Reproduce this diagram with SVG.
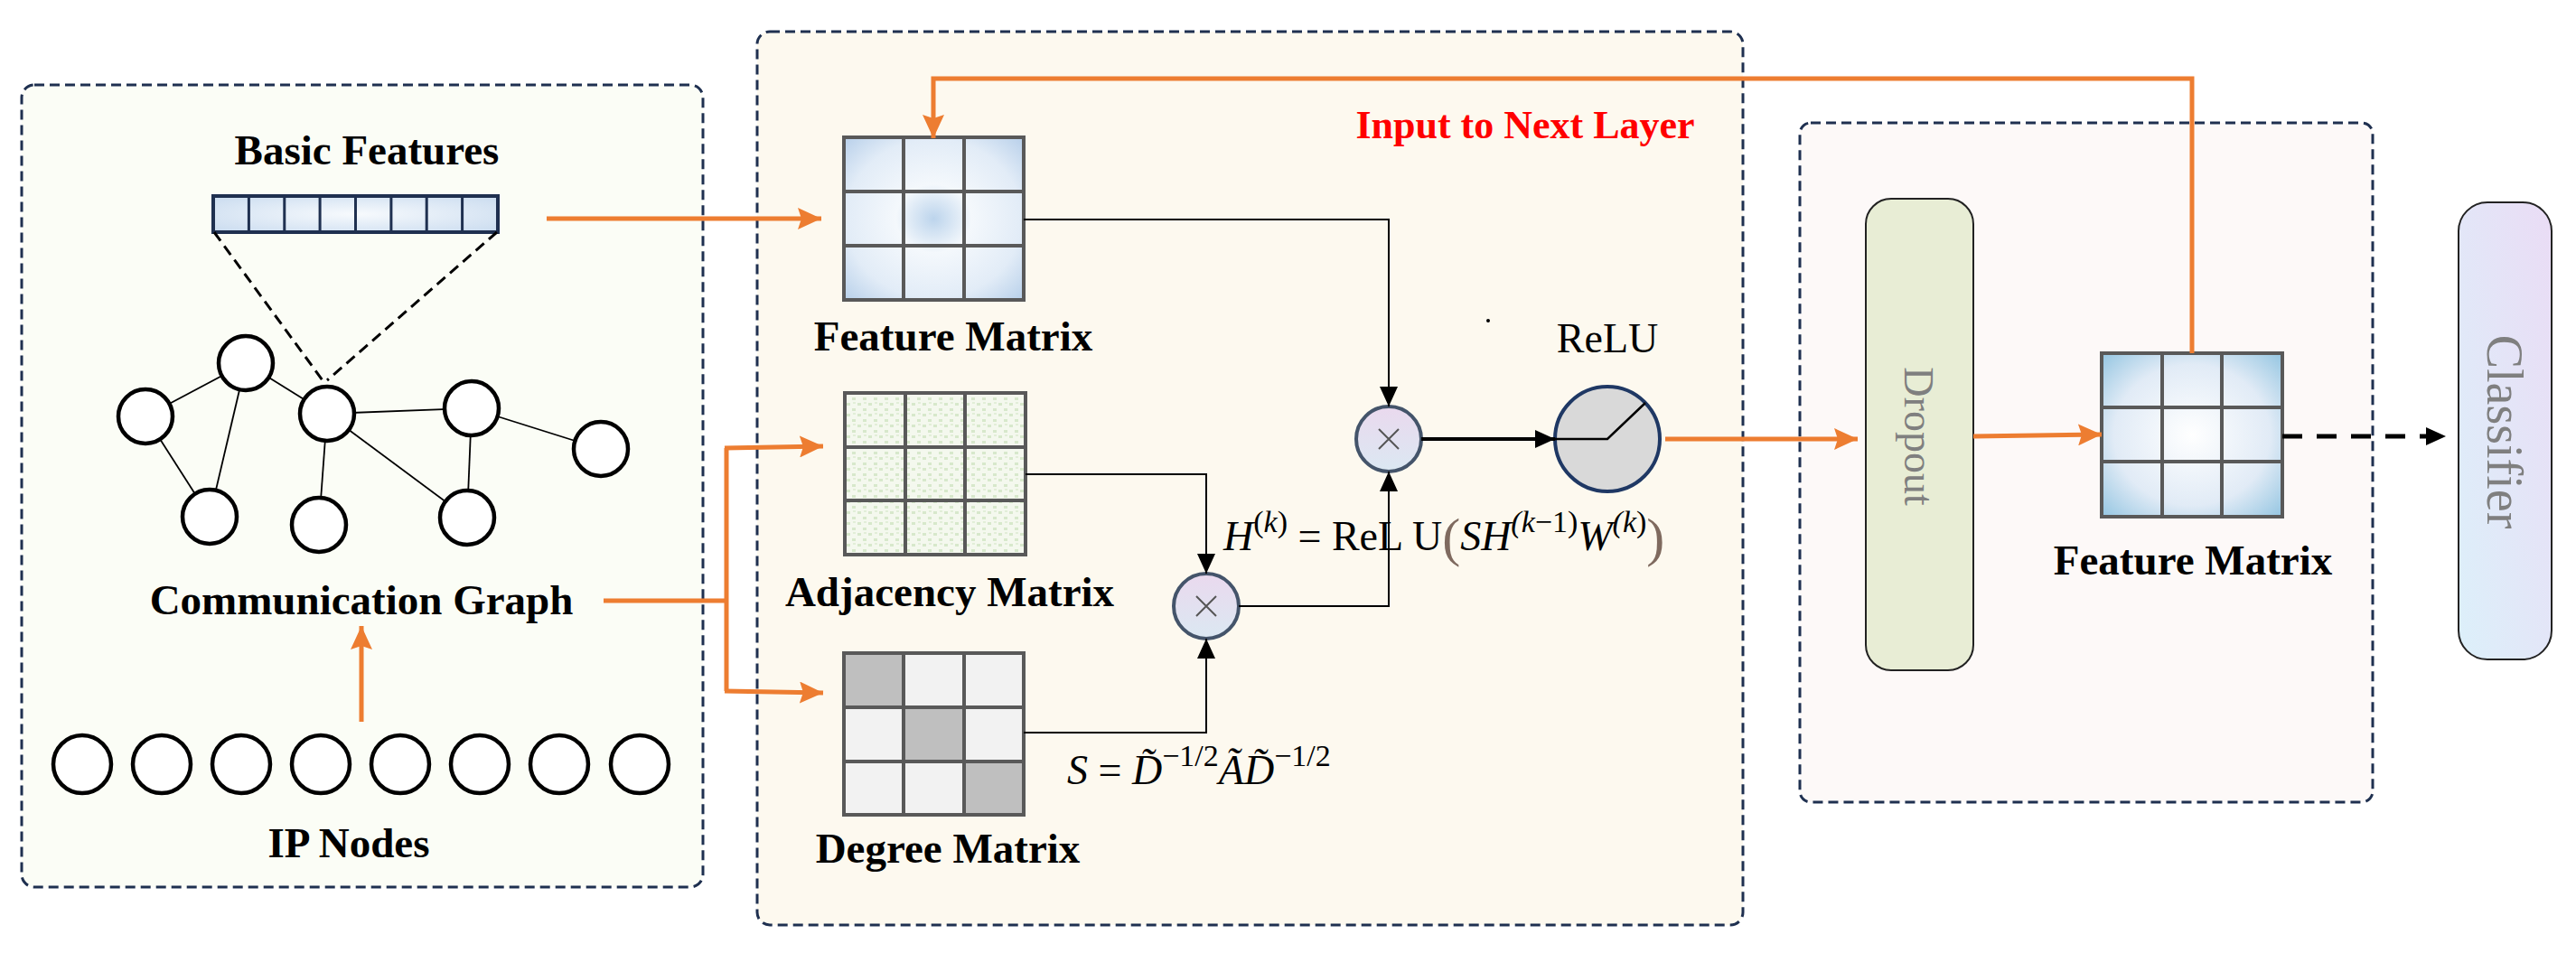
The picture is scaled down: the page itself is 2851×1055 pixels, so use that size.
<svg xmlns="http://www.w3.org/2000/svg" width="2851" height="1055" viewBox="0 0 2851 1055">
<style>
.panel{stroke:#1f3050;stroke-width:3;stroke-dasharray:11 6}
.lbl{font-family:"Liberation Serif",serif;font-weight:bold;font-size:47px;fill:#000;text-anchor:middle}
.node{fill:#fff;stroke:#000;stroke-width:4.5}
.edge{stroke:#000;stroke-width:1.8}
.org{stroke:#ed7d31;stroke-width:5;fill:none}
.blk{stroke:#000;stroke-width:2;fill:none}
.grid{stroke:#595959;stroke-width:4;fill:none}
.math{font-family:"Liberation Serif",serif;font-size:46px;font-style:italic;fill:#000}
.mul{fill:url(#mulg);stroke:#44546a;stroke-width:4}
</style>
<defs>
<marker id="aoL" markerWidth="26" markerHeight="24" refX="26" refY="12" orient="auto" markerUnits="userSpaceOnUse"><path d="M0,0 L26,12 L0,24 L4,12 z" fill="#ed7d31"/></marker>
<marker id="ab" markerWidth="22" markerHeight="20" refX="22" refY="10" orient="auto" markerUnits="userSpaceOnUse"><path d="M0,0 L22,10 L0,20 z" fill="#000"/></marker>
<radialGradient id="fm1" cx="0.5" cy="0.5" r="0.7"><stop offset="0" stop-color="#bcd4ec"/><stop offset="0.3" stop-color="#f4f8fc"/><stop offset="0.7" stop-color="#e2ecf7"/><stop offset="1" stop-color="#b8d0ea"/></radialGradient>
<radialGradient id="fm2" cx="0.5" cy="0.5" r="0.72"><stop offset="0" stop-color="#ffffff"/><stop offset="0.6" stop-color="#e1ebf6"/><stop offset="1" stop-color="#8fc3e0"/></radialGradient>
<radialGradient id="cell" cx="0.5" cy="0.5" r="0.7"><stop offset="0" stop-color="#f7fafd"/><stop offset="1" stop-color="#c9dbef"/></radialGradient>
<linearGradient id="mulg" x1="0" y1="0" x2="0" y2="1"><stop offset="0" stop-color="#ead9ee"/><stop offset="1" stop-color="#dbe8f2"/></linearGradient>
<linearGradient id="clsg" x1="1" y1="0" x2="0" y2="1"><stop offset="0" stop-color="#eadcf5"/><stop offset="1" stop-color="#dcf0fa"/></linearGradient>
<pattern id="dots" width="12" height="12" patternUnits="userSpaceOnUse"><rect width="12" height="12" fill="#f4f8ee"/><rect x="1" y="2" width="4" height="3" fill="#d7e8cb"/><rect x="7" y="8" width="4" height="3" fill="#d7e8cb"/><rect x="8" y="1" width="3" height="2" fill="#e2eed8"/></pattern>
</defs>

<g id="panel-left"><rect x="24" y="94" width="754" height="888" rx="14" fill="#fbfdf6" class="panel"/></g>
<g id="panel-mid"><rect x="838" y="35" width="1091" height="989" rx="14" fill="#fdf9ef" class="panel"/></g>
<g id="panel-right"><rect x="1992" y="136" width="634" height="752" rx="12" fill="#fdf9f8" class="panel"/></g>

<g id="basic-features">
<text class="lbl" x="406" y="182">Basic Features</text>
<rect x="236" y="217" width="315" height="40" fill="url(#cell)" stroke="#1f3050" stroke-width="4"/>
<path d="M275.4,217v40M314.8,217v40M354.1,217v40M393.5,217v40M432.9,217v40M472.2,217v40M511.6,217v40" stroke="#1f3050" stroke-width="3"/>
<path d="M237,257 L357,421 M550,257 L362,421" stroke="#000" stroke-width="3" stroke-dasharray="12 7" fill="none"/>
</g>

<g id="communication-graph">
<g class="edge">
<line x1="161" y1="461" x2="272" y2="402"/><line x1="272" y1="402" x2="362" y2="458"/><line x1="272" y1="402" x2="232" y2="572"/>
<line x1="161" y1="461" x2="232" y2="572"/><line x1="362" y1="458" x2="522" y2="452"/><line x1="362" y1="458" x2="353" y2="581"/>
<line x1="362" y1="458" x2="517" y2="573"/><line x1="522" y1="452" x2="517" y2="573"/><line x1="522" y1="452" x2="665" y2="497"/>
</g>
<circle class="node" cx="272" cy="402" r="30"/><circle class="node" cx="161" cy="461" r="30"/><circle class="node" cx="362" cy="458" r="30"/>
<circle class="node" cx="522" cy="452" r="30"/><circle class="node" cx="665" cy="497" r="30"/><circle class="node" cx="232" cy="572" r="30"/>
<circle class="node" cx="353" cy="581" r="30"/><circle class="node" cx="517" cy="573" r="30"/>
<text class="lbl" x="400" y="680">Communication Graph</text>
</g>

<g id="ip-nodes">
<circle class="node" cx="91" cy="846" r="32"/><circle class="node" cx="179" cy="846" r="32"/><circle class="node" cx="267" cy="846" r="32"/><circle class="node" cx="355" cy="846" r="32"/>
<circle class="node" cx="443" cy="846" r="32"/><circle class="node" cx="531" cy="846" r="32"/><circle class="node" cx="619" cy="846" r="32"/><circle class="node" cx="708" cy="846" r="32"/>
<text class="lbl" x="386" y="949">IP Nodes</text>
</g>

<g id="feature-matrix-1">
<rect x="934" y="152" width="199" height="180" fill="url(#fm1)"/>
<rect x="934" y="152" width="199" height="180" class="grid"/>
<path d="M1000,152v180M1067,152v180M934,212h199M934,272h199" class="grid"/>
<text class="lbl" x="1055" y="388">Feature Matrix</text>
</g>
<g id="adjacency-matrix">
<rect x="935" y="435" width="200" height="179" fill="url(#dots)"/>
<rect x="935" y="435" width="200" height="179" class="grid"/>
<path d="M1002,435v179M1068,435v179M935,495h200M935,554h200" class="grid"/>
<text class="lbl" x="1051" y="671">Adjacency Matrix</text>
</g>
<g id="degree-matrix">
<rect x="934" y="723" width="199" height="179" fill="#f2f2f2"/>
<rect x="934" y="723" width="66" height="60" fill="#bfbfbf"/><rect x="1000" y="783" width="67" height="60" fill="#bfbfbf"/><rect x="1067" y="843" width="66" height="59" fill="#bfbfbf"/>
<rect x="934" y="723" width="199" height="179" class="grid"/>
<path d="M1000,723v179M1067,723v179M934,783h199M934,843h199" class="grid"/>
<text class="lbl" x="1049" y="955">Degree Matrix</text>
</g>

<g id="mul-1"><circle class="mul" cx="1335" cy="671" r="36"/><path d="M1324,660l22,22M1346,660l-22,22" stroke="#555" stroke-width="2"/></g>
<g id="mul-2"><circle class="mul" cx="1537" cy="486" r="36"/><path d="M1526,475l22,22M1548,475l-22,22" stroke="#555" stroke-width="2"/></g>

<g id="relu">
<text x="1779" y="390" font-family="Liberation Serif,serif" font-size="46" text-anchor="middle">ReLU</text>
<circle cx="1779" cy="486" r="58" fill="#d9d9d9" stroke="#1f3864" stroke-width="4"/>
<path d="M1721,486 H1779 L1821,446" stroke="#000" stroke-width="2.5" fill="none"/>
<circle cx="1647" cy="355" r="2" fill="#000"/>
</g>

<g id="formulas">
<text class="math" x="1354" y="609">H<tspan font-style="normal" font-size="34" dy="-20">(</tspan><tspan font-size="34">k</tspan><tspan font-style="normal" font-size="34">)</tspan><tspan font-style="normal" dy="20"> = ReL U</tspan><tspan font-style="normal" fill="#7f6a5f" font-size="60" dy="6">(</tspan><tspan dy="-6">SH</tspan><tspan font-size="34" dy="-20">(k</tspan><tspan font-style="normal" font-size="34">−1)</tspan><tspan dy="20">W</tspan><tspan font-size="34" dy="-20">(k</tspan><tspan font-style="normal" font-size="34">)</tspan><tspan font-style="normal" fill="#7f6a5f" font-size="60" dy="26">)</tspan></text>
<text class="math" x="1181" y="868">S <tspan font-style="normal">=</tspan> D̃<tspan font-style="normal" font-size="34" dy="-20">−1/2</tspan><tspan dy="20">ÃD̃</tspan><tspan font-style="normal" font-size="34" dy="-20">−1/2</tspan></text>
<text x="1688" y="153" font-family="Liberation Serif,serif" font-weight="bold" font-size="44" fill="#ff0000" text-anchor="middle">Input to Next Layer</text>
</g>

<g id="dropout">
<rect x="2065" y="220" width="119" height="522" rx="28" fill="#e8edd5" stroke="#222" stroke-width="2"/>
<text transform="translate(2108,483) rotate(90)" font-family="Liberation Serif,serif" font-size="46" fill="#7f7f7f" text-anchor="middle">Dropout</text>
</g>
<g id="feature-matrix-2">
<rect x="2326" y="391" width="200" height="181" fill="url(#fm2)"/>
<rect x="2326" y="391" width="200" height="181" class="grid"/>
<path d="M2393,391v181M2459,391v181M2326,451h200M2326,511h200" class="grid"/>
<text class="lbl" x="2427" y="636">Feature Matrix</text>
</g>
<g id="classifier">
<rect x="2721" y="224" width="103" height="506" rx="32" fill="url(#clsg)" stroke="#222" stroke-width="2"/>
<text transform="translate(2753,478) rotate(90)" font-family="Liberation Serif,serif" font-size="56" fill="#7f7f7f" text-anchor="middle">Classifier</text>
</g>

<g id="connectors">
<line x1="605" y1="242" x2="909" y2="242" class="org" marker-end="url(#aoL)"/>
<line x1="400" y1="799" x2="400" y2="693" class="org" marker-end="url(#aoL)"/>
<path d="M668,665 H804 M804,496 V765" class="org"/>
<line x1="802" y1="496" x2="911" y2="494" class="org" marker-end="url(#aoL)"/>
<line x1="802" y1="765" x2="911" y2="767" class="org" marker-end="url(#aoL)"/>
<path d="M1133,243 H1537 V450" class="blk" marker-end="url(#ab)"/>
<path d="M1135,525 H1335 V635" class="blk" marker-end="url(#ab)"/>
<path d="M1133,811 H1335 V707" class="blk" marker-end="url(#ab)"/>
<path d="M1371,671 H1537 V522" class="blk" marker-end="url(#ab)"/>
<line x1="1573" y1="486" x2="1721" y2="486" stroke="#000" stroke-width="4" marker-end="url(#ab)"/>
<line x1="1843" y1="486" x2="2056" y2="486" class="org" marker-end="url(#aoL)"/>
<line x1="2184" y1="483" x2="2326" y2="481" class="org" marker-end="url(#aoL)"/>
<path d="M2426,391 V87 H1033 V153" class="org" marker-end="url(#aoL)"/>
<line x1="2526" y1="483" x2="2707" y2="483" stroke="#000" stroke-width="5" stroke-dasharray="22 16" marker-end="url(#ab)"/>
</g>
</svg>
